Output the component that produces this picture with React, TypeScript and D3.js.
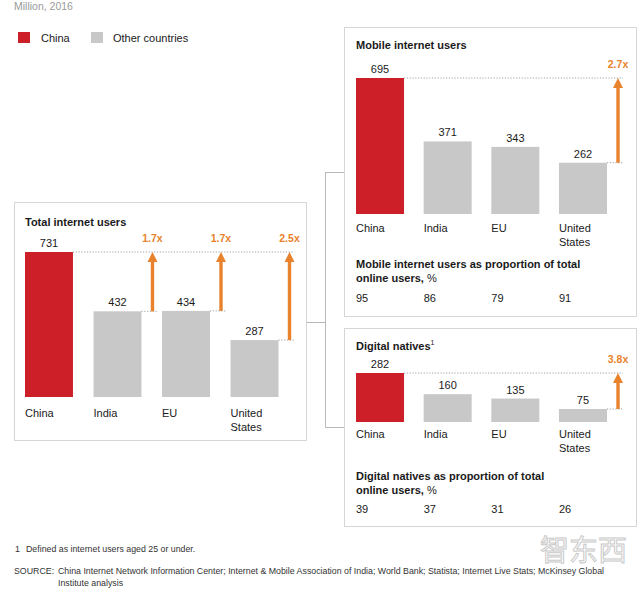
import React from "react";
import * as d3 from "d3";

const countries = ["China", "India", "EU", "United States"];
const totalUsers = [731, 432, 434, 287];
const mobileUsers = [695, 371, 343, 262];
const digitalNatives = [282, 160, 135, 75];
const mobileShare = [95, 86, 79, 91];
const nativeShare = [39, 37, 31, 26];
const totalMultiples = ["", "1.7x", "1.7x", "2.5x"];
const mobileMultiples = ["", "", "", "2.7x"];
const nativeMultiples = ["", "", "", "3.8x"];

const RED = "#CC1F28";
const GRAY = "#C8C8C8";
const ORANGE = "#E8822C";
const TEXT = "#1a1a1a";
const BORDER = "#d6d6d6";
const FONT = "'Liberation Sans', Arial, sans-serif";

type PanelProps = {
  values: number[];
  multiples: string[];
  x0: number;
  x1: number;
  pad: number;
  yBase: number;
  yTop: number;
  catOffset: number;
};

function Bars({ values, multiples, x0, x1, pad, yBase, yTop, catOffset }: PanelProps) {
  const x = d3.scaleBand<string>().domain(countries).range([x0, x1]).paddingInner(pad).paddingOuter(0);
  const y = d3.scaleLinear().domain([0, values[0]]).range([yBase, yTop]);
  const bw = x.bandwidth();
  const chinaTop = y(values[0]);
  const arrowXs = countries.map((c) => (x(c) as number) + bw + 11);
  const lastArrow = d3.max(arrowXs.filter((_, i) => multiples[i] !== "")) as number;
  return (
    <g>
      <line x1={(x(countries[0]) as number) + bw} x2={lastArrow + 5} y1={chinaTop} y2={chinaTop} stroke="#8a8a8a" strokeWidth={0.8} strokeDasharray="1.2,1.6" />
      {countries.map((c, i) => {
        const bx = x(c) as number;
        const top = y(values[i]);
        const ax = arrowXs[i];
        return (
          <g key={c}>
            <rect x={bx} y={top} width={bw} height={yBase - top} fill={i === 0 ? RED : GRAY} />
            <text x={bx + bw / 2} y={top - 5} textAnchor="middle" fontSize={11} fill={TEXT}>{values[i]}</text>
            {c === "United States" ? (
              <text x={bx} y={yBase + catOffset} fontSize={11} fill={TEXT}>
                <tspan x={bx}>United</tspan>
                <tspan x={bx} dy={14}>States</tspan>
              </text>
            ) : (
              <text x={bx} y={yBase + catOffset} fontSize={11} fill={TEXT}>{c}</text>
            )}
            {multiples[i] !== "" && (
              <g>
                <line x1={bx + bw} x2={ax + 5} y1={top} y2={top} stroke="#8a8a8a" strokeWidth={0.8} strokeDasharray="1.2,1.6" />
                <line x1={ax} x2={ax} y1={top} y2={chinaTop + 8} stroke={ORANGE} strokeWidth={3.4} />
                <path d={`M${ax},${chinaTop} L${ax - 5},${chinaTop + 10} L${ax + 5},${chinaTop + 10} Z`} fill={ORANGE} />
                <text x={ax} y={chinaTop - 10} textAnchor="middle" fontSize={10.5} fontWeight="bold" fill={ORANGE}>{multiples[i]}</text>
              </g>
            )}
          </g>
        );
      })}
    </g>
  );
}

function ShareRow({ values, x0, x1, pad, y }: { values: number[]; x0: number; x1: number; pad: number; y: number }) {
  const x = d3.scaleBand<string>().domain(countries).range([x0, x1]).paddingInner(pad).paddingOuter(0);
  return (
    <g>
      {countries.map((c, i) => (
        <text key={c} x={x(c) as number} y={y} fontSize={11} fill={TEXT}>{values[i]}</text>
      ))}
    </g>
  );
}

export default function App() {
  return (
    <div style={{ position: "absolute", left: 0, top: 0 }}>
      <svg width={639} height={611} style={{ display: "block", fontFamily: FONT }}>
        <rect width={639} height={611} fill="#fff" />
        <text x={14} y={10} fontSize={10.5} fill="#9a9a9a">Million, 2016</text>
        <rect x={18} y={32} width={12} height={11} fill={RED} />
        <text x={41} y={42} fontSize={11} fill={TEXT}>China</text>
        <rect x={91} y={32} width={12} height={11} fill={GRAY} />
        <text x={113} y={42} fontSize={11} fill={TEXT}>Other countries</text>

        {/* panels */}
        <rect x={14.5} y={202.5} width={292} height={238} fill="none" stroke={BORDER} />
        <rect x={344.5} y={27.5} width={292} height={289} fill="none" stroke={BORDER} />
        <rect x={344.5} y={328.5} width={292} height={198} fill="none" stroke={BORDER} />

        {/* connectors */}
        <path d="M307,322.5 H325.5 M325.5,172 V427.5 M325.5,172.5 H344 M325.5,427.5 H344" fill="none" stroke="#b8b8b8" strokeWidth={1} />

        {/* left panel */}
        <text x={25} y={226} fontSize={11} fontWeight="bold" fill={TEXT}>Total internet users</text>
        <Bars values={totalUsers} multiples={totalMultiples} x0={25} x1={278.5} pad={0.3} yBase={397} yTop={252} catOffset={20} />

        {/* right top panel */}
        <text x={356} y={49} fontSize={11} fontWeight="bold" fill={TEXT}>Mobile internet users</text>
        <Bars values={mobileUsers} multiples={mobileMultiples} x0={356} x1={607} pad={0.29} yBase={214} yTop={78} catOffset={18} />
        <text x={356} y={268} fontSize={11} fontWeight="bold" fill={TEXT}>Mobile internet users as proportion of total</text>
        <text x={356} y={282} fontSize={11} fontWeight="bold" fill={TEXT}>online users, <tspan fontWeight="normal">%</tspan></text>
        <ShareRow values={mobileShare} x0={356} x1={607} pad={0.29} y={302} />

        {/* right bottom panel */}
        <text x={356} y={350} fontSize={11} fontWeight="bold" fill={TEXT}>Digital natives<tspan fontSize={7} fontWeight="normal" dy={-5}>1</tspan></text>
        <Bars values={digitalNatives} multiples={nativeMultiples} x0={356} x1={607} pad={0.29} yBase={422} yTop={373} catOffset={16} />
        <text x={356} y={480} fontSize={11} fontWeight="bold" fill={TEXT}>Digital natives as proportion of total</text>
        <text x={356} y={494} fontSize={11} fontWeight="bold" fill={TEXT}>online users, <tspan fontWeight="normal">%</tspan></text>
        <ShareRow values={nativeShare} x0={356} x1={607} pad={0.29} y={513} />

        {/* footer */}
        <text x={15} y={552} fontSize={8.8} fill="#333">1</text>
        <text x={26} y={552} fontSize={8.8} fill="#333">Defined as internet users aged 25 or under.</text>
        <text x={14} y={574} fontSize={8.8} fill="#333">SOURCE:</text>
        <text x={58} y={574} fontSize={8.8} fill="#333">China Internet Network Information Center; Internet &amp; Mobile Association of India; World Bank; Statista; Internet Live Stats; McKinsey Global</text>
        <text x={58} y={586} fontSize={8.8} fill="#333">Institute analysis</text>

        {/* watermark */}
        <text x={540} y={561} fontSize={29} fill="#ffffff" stroke="#c4c4c4" strokeWidth={1} fontFamily="'Noto Sans CJK SC', sans-serif" opacity={0.9}>智东西</text>
      </svg>
    </div>
  );
}
